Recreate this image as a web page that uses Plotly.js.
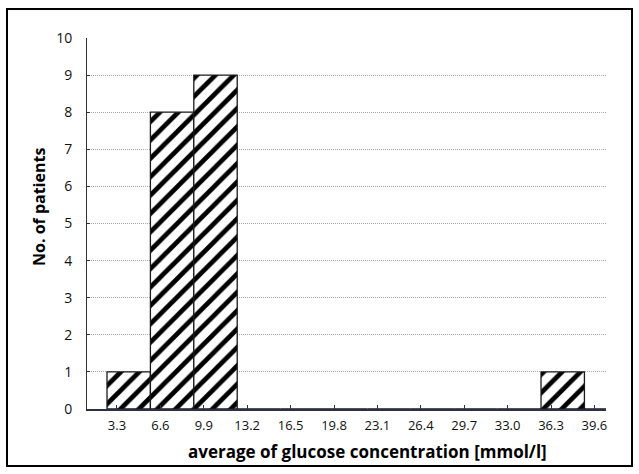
<!DOCTYPE html>
<html>
<head>
<meta charset="utf-8">
<script src="https://cdn.plot.ly/plotly-3.0.1.min.js"></script>
<style>
  html, body { margin: 0; padding: 0; background: #fff; }
  #wrap { position: relative; width: 639px; height: 474px; }
  #chart { width: 639px; height: 474px; }
  #frame { position: absolute; left: 6px; top: 8px; width: 623px; height: 455px;
           border: 2px solid #000; pointer-events: none; }
</style>
</head>
<body>
<div id="wrap"><div id="chart"></div><div id="frame"></div></div>
<script>
const categories = ["3.3","6.6","9.9","13.2","16.5","19.8","23.1","26.4","29.7","33.0","36.3","39.6"];
const patients   = [1, 8, 9, 0, 0, 0, 0, 0, 0, 0, 1, 0];
const yTicks     = [0,1,2,3,4,5,6,7,8,9,10];
const gridVals   = [1,2,3,4,5,6,7,8,9];

const idx = categories.map((c, i) => i);
const FONT = "Open Sans, Noto Sans, sans-serif";

const trace = {
  type: "bar",
  x: idx,
  y: patients,
  width: 1,
  offset: -0.23,
  marker: {
    color: "#ffffff",
    line: { color: "#1a1a1a", width: 1.3 },
    pattern: { shape: "/", fgcolor: "#000000", bgcolor: "#ffffff", size: 13, solidity: 0.36 }
  },
  customdata: categories,
  hovertemplate: "%{customdata}: %{y}<extra></extra>",
  showlegend: false
};

const layout = {
  width: 639, height: 474,
  margin: { l: 87, r: 33, t: 38, b: 65, pad: 0 },
  paper_bgcolor: "#ffffff",
  plot_bgcolor: "#ffffff",
  font: { family: FONT, size: 14, color: "#111" },
  bargap: 0,
  xaxis: {
    range: [-0.691, 11.267],
    tickmode: "array",
    tickvals: idx,
    ticktext: categories,
    showgrid: false,
    zeroline: false,
    showline: true,
    linecolor: "#2b3047",
    linewidth: 2,
    ticks: "inside",
    ticklen: 4,
    tickwidth: 1,
    tickcolor: "#2b3047",
    ticklabelstandoff: 3,
    tickfont: { family: FONT, size: 13, color: "#111" },
    fixedrange: true
  },
  yaxis: {
    range: [0, 10],
    tickmode: "array",
    tickvals: yTicks,
    showgrid: false,
    zeroline: false,
    showline: true,
    linecolor: "#333333",
    linewidth: 1,
    ticks: "inside",
    ticklen: 3,
    tickcolor: "#333333",
    ticklabelstandoff: 11,
    tickfont: { family: FONT, size: 14, color: "#111" },
    fixedrange: true
  },
  yaxis2: {
    overlaying: "y",
    range: [0, 10],
    tickmode: "array",
    tickvals: gridVals,
    showticklabels: false,
    ticks: "",
    showgrid: true,
    gridcolor: "#a8a8a8",
    gridwidth: 1,
    griddash: "1px,1px",
    zeroline: false,
    showline: false,
    fixedrange: true
  },
  annotations: [
    { text: "<b>average of glucose concentration [mmol/l]</b>", xref: "paper", yref: "paper",
      x: (367.5 - 87) / 519, y: (409 - 452) / 371, xanchor: "center", yanchor: "middle",
      showarrow: false, font: { family: FONT, size: 17, color: "#000" } },
    { text: "<b>No. of patients</b>", xref: "paper", yref: "paper",
      x: (39 - 87) / 519, y: (409 - 207) / 371, xanchor: "center", yanchor: "middle",
      textangle: -90, showarrow: false, font: { family: FONT, size: 16, color: "#000" } }
  ]
};

const gridTrace = { type: "scatter", x: [], y: [], yaxis: "y2", showlegend: false, hoverinfo: "skip" };

Plotly.newPlot("chart", [gridTrace, trace], layout, { displayModeBar: false, staticPlot: true });
</script>
</body>
</html>
